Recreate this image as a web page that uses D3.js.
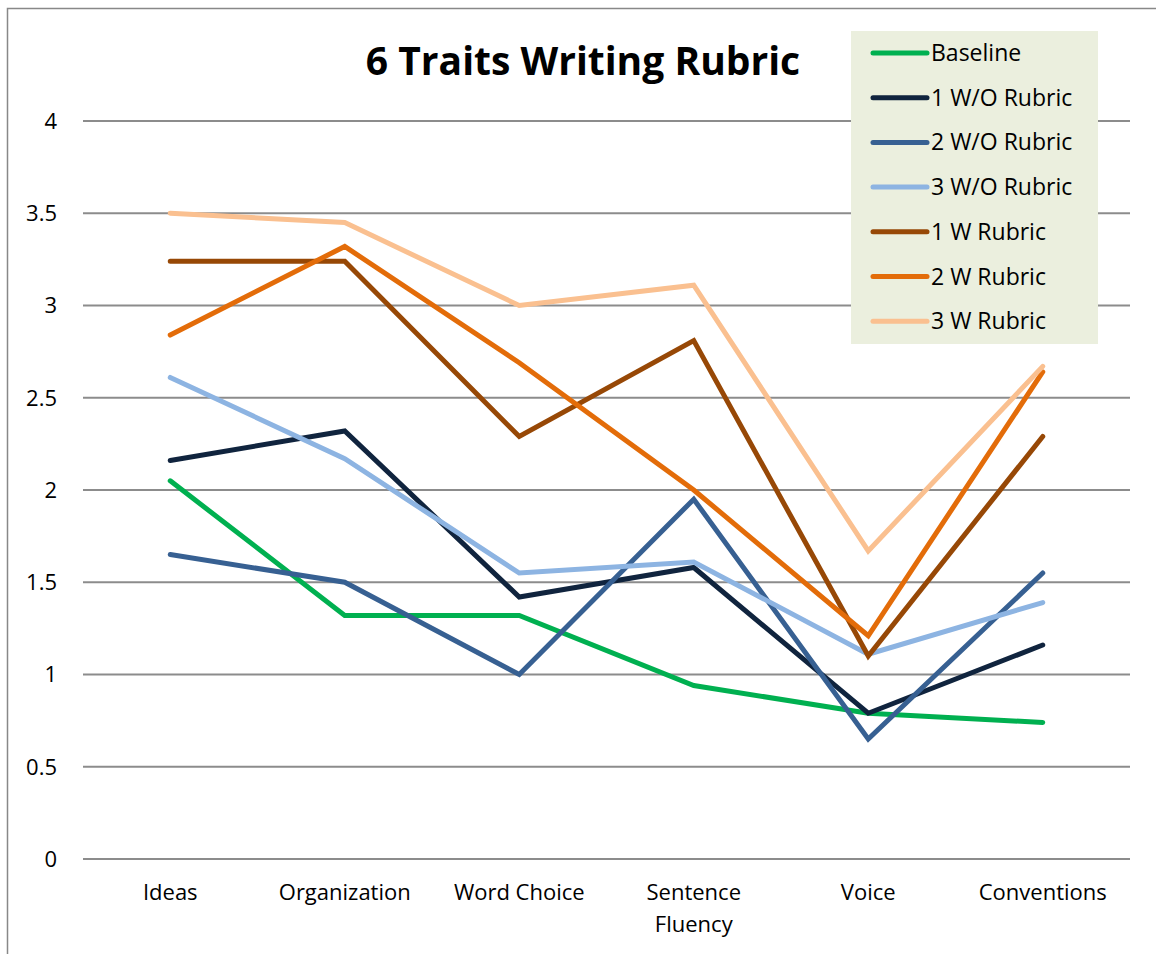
<!DOCTYPE html>
<html lang="en">
  <head>
    <meta charset="utf-8">
    <title>6 Traits Writing Rubric</title>
    <script src="https://d3js.org/d3.v7.js"></script>
    <style>
      body { margin: 0; background: white; overflow: hidden; }
      svg { display: block; }
      text { font-family: "Open Sans", "Liberation Sans", sans-serif; fill: black; }
    </style>
  </head>
  <body>
    <script>
      // data
      const categories = ["Ideas", "Organization", "Word Choice", "Sentence Fluency", "Voice", "Conventions"];
      const seriesNames = ["Baseline", "1 W/O Rubric", "2 W/O Rubric", "3 W/O Rubric", "1 W Rubric", "2 W Rubric", "3 W Rubric"];
      const baseline   = [2.05, 1.32, 1.32, 0.94, 0.79, 0.74];
      const woRubric1  = [2.16, 2.32, 1.42, 1.58, 0.79, 1.16];
      const woRubric2  = [1.65, 1.50, 1.00, 1.95, 0.65, 1.55];
      const woRubric3  = [2.61, 2.17, 1.55, 1.61, 1.11, 1.39];
      const wRubric1   = [3.24, 3.24, 2.29, 2.81, 1.10, 2.29];
      const wRubric2   = [2.84, 3.32, 2.69, 2.00, 1.21, 2.64];
      const wRubric3   = [3.50, 3.45, 3.00, 3.11, 1.67, 2.67];
      const yTicks = [0, 0.5, 1, 1.5, 2, 2.5, 3, 3.5, 4];
      const colors = ["#00B050", "#10243E", "#376092", "#8DB4E2", "#974806", "#E36C09", "#FAC090"];

      const series = [baseline, woRubric1, woRubric2, woRubric3, wRubric1, wRubric2, wRubric3];

      const w = 1156;
      const h = 954;
      const margin = {top: 121, right: 26, bottom: 95, left: 83};
      const innerWidth = w - margin.left - margin.right;
      const innerHeight = h - margin.top - margin.bottom;

      const xScale = d3.scaleBand()
                       .domain(categories)
                       .range([0, innerWidth]);

      const yScale = d3.scaleLinear()
                       .domain([0, 4])
                       .range([innerHeight, 0]);

      const svg = d3.select("body")
                    .append("svg")
                    .attr("width", w)
                    .attr("height", h);

      // chart border (only left and top edges are in the picture)
      svg.append("path")
         .attr("d", `M7.5,${h} V8.5 H${w}`)
         .attr("fill", "none")
         .attr("stroke", "#888")
         .attr("stroke-width", 1.5);

      const plot = svg.append("g")
                      .attr("transform", `translate (${margin.left}, ${margin.top})`);

      // gridlines
      plot.append("g")
          .selectAll("line")
          .data(yTicks)
          .enter().append("line")
          .attr("x1", 0)
          .attr("x2", innerWidth)
          .attr("y1", d => yScale(d))
          .attr("y2", d => yScale(d))
          .attr("stroke", "#8c8c8c")
          .attr("stroke-width", 2);

      // y axis
      const yAxis = d3.axisLeft(yScale)
                      .tickValues(yTicks)
                      .tickSize(0)
                      .tickPadding(26)
                      .tickFormat(d => d);

      plot.append("g")
          .attr("class", "yAxis")
          .call(yAxis)
          .call(g => g.select(".domain").remove())
          .selectAll("text")
          .style("font-size", "22px")
          .attr("dy", "0.34em");

      // x axis
      const xAxis = d3.axisBottom(xScale).tickSize(0).tickPadding(25);

      plot.append("g")
          .attr("class", "xAxis")
          .attr("transform", `translate (0, ${innerHeight})`)
          .call(xAxis)
          .call(g => g.select(".domain").remove())
          .selectAll("text")
          .style("font-size", "22px")
          .each(function(d) {
            const words = d.split(" ");
            if (d === "Sentence Fluency") {
              const t = d3.select(this).text(null);
              words.forEach((wd, i) => {
                t.append("tspan")
                 .attr("x", 0)
                 .attr("dy", i === 0 ? "0.71em" : "1.45em")
                 .text(wd);
              });
              t.attr("dy", null);
            }
          });

      // lines
      const line = d3.line()
                     .x((d, i) => xScale(categories[i]) + xScale.bandwidth() / 2)
                     .y(d => yScale(d));

      plot.append("g")
          .selectAll("path")
          .data(series)
          .enter().append("path")
          .attr("d", d => line(d))
          .attr("fill", "none")
          .attr("stroke", (d, i) => colors[i])
          .attr("stroke-width", 5)
          .attr("stroke-linejoin", "miter")
          .attr("stroke-linecap", "round");

      // title
      svg.append("text")
         .attr("x", 583)
         .attr("y", 75)
         .attr("text-anchor", "middle")
         .style("font-size", "39px")
         .style("font-weight", "bold")
         .text("6 Traits Writing Rubric");

      // legend
      const legend = svg.append("g")
                        .attr("transform", "translate (851, 31)");

      legend.append("rect")
            .attr("width", 247)
            .attr("height", 313)
            .attr("fill", "#EBEFDE");

      const rows = legend.selectAll("g.item")
                         .data(seriesNames)
                         .enter().append("g")
                         .attr("class", "item")
                         .attr("transform", (d, i) => `translate (0, ${22 + i * 44.7})`);

      rows.append("line")
          .attr("x1", 22)
          .attr("x2", 76)
          .attr("stroke", (d, i) => colors[i])
          .attr("stroke-width", 5)
          .attr("stroke-linecap", "round");

      rows.append("text")
          .attr("x", 80)
          .attr("dy", "0.35em")
          .style("font-size", "23px")
          .text(d => d);
    </script>
  </body>
</html>
